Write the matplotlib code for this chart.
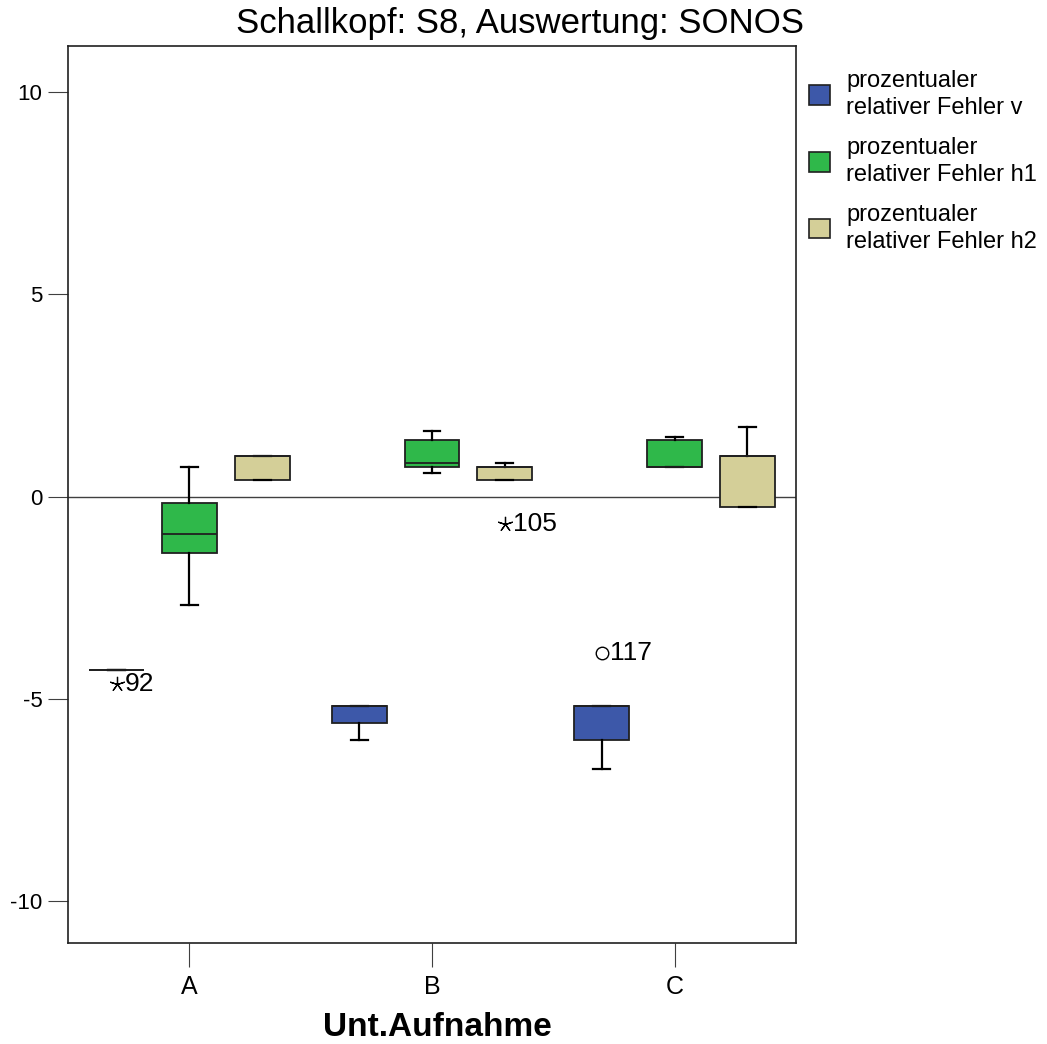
import numpy as np
import matplotlib
matplotlib.use("Agg")
import matplotlib.pyplot as plt
from matplotlib.patches import Patch

plt.rcParams['font.family'] = ['Liberation Sans', 'DejaVu Sans']
plt.rcParams['axes.unicode_minus'] = False

# groups on the x axis
groups = ['A', 'B', 'C']
series_names = ['prozentualer\nrelativer Fehler v',
                'prozentualer\nrelativer Fehler h1',
                'prozentualer\nrelativer Fehler h2']
colors = ['#3d58a9', '#2fb84a', '#d4cf98']

# box statistics per series, one value per group (A, B, C)
v_lo = [-4.28, -6.01, -6.73]
v_q1 = [-4.28, -5.59, -6.01]
v_med = [-4.28, -5.17, -5.17]
v_q3 = [-4.28, -5.17, -5.17]
v_hi = [-4.28, -5.17, -5.17]

h1_lo = [-2.67, 0.59, 0.74]
h1_q1 = [-1.39, 0.74, 0.74]
h1_med = [-0.92, 0.84, 0.74]
h1_q3 = [-0.17, 1.39, 1.39]
h1_hi = [0.74, 1.61, 1.46]

h2_lo = [0.42, 0.42, -0.27]
h2_q1 = [0.42, 0.42, -0.27]
h2_med = [1.01, 0.74, 1.01]
h2_q3 = [1.01, 0.74, 1.01]
h2_hi = [1.01, 0.84, 1.71]

# outliers: group index, series index, value, case label, marker kind
out_group = [0, 1, 2]
out_series = [0, 2, 0]
out_value = [-4.63, -0.67, -3.86]
out_label = ['92', '105', '117']
out_kind = ['extreme', 'extreme', 'outlier']

series_stats = [
    (v_lo, v_q1, v_med, v_q3, v_hi),
    (h1_lo, h1_q1, h1_med, h1_q3, h1_hi),
    (h2_lo, h2_q1, h2_med, h2_q3, h2_hi),
]

offsets = [-0.30, 0.0, 0.30]
box_w = 0.226

fig = plt.figure(figsize=(10.47, 10.44), dpi=100)
ax = fig.add_axes([68 / 1047, 1 - 943 / 1044, 728 / 1047, 897 / 1044])

ax.axhline(0, color='#404040', lw=1.0, zorder=1)

for si, (lo, q1, med, q3, hi) in enumerate(series_stats):
    stats = []
    for gi in range(len(groups)):
        stats.append(dict(whislo=lo[gi], q1=q1[gi], med=med[gi],
                          q3=q3[gi], whishi=hi[gi], fliers=[]))
    pos = [gi + offsets[si] for gi in range(len(groups))]
    ax.bxp(stats, positions=pos, widths=box_w, capwidths=0.07,
           patch_artist=True, showfliers=False, manage_ticks=False,
           boxprops=dict(facecolor=colors[si], edgecolor='#202020', lw=1.3),
           medianprops=dict(color='#202020', lw=1.3),
           whiskerprops=dict(color='black', lw=1.6),
           capprops=dict(color='black', lw=1.6), zorder=3)

for gi, si, val, lab, kind in zip(out_group, out_series, out_value, out_label, out_kind):
    x = gi + offsets[si]
    if kind == 'extreme':
        ax.plot(x, val, marker=(5, 2, 0), ms=11, color='black', mew=0.9, zorder=4)
    else:
        ax.plot(x, val, marker='o', ms=9, mfc='white', mec='black', mew=1.0, zorder=4)
    ax.annotate(lab, (x, val), xytext=(6, 0), textcoords='offset points',
                va='center', ha='left', fontsize=19)

ax.set_xlim(-0.5, 2.5)
ax.set_ylim(-11.04, 11.14)
ax.set_xticks(range(len(groups)))
ax.set_xticklabels(groups)
ax.set_yticks([-10, -5, 0, 5, 10])
ax.set_yticklabels(['-10', '-5', '0', '5', '10'])
ax.tick_params(axis='x', length=17, width=0.8, direction='out', labelsize=18, pad=6, color='#404040')
ax.tick_params(axis='y', length=14.5, width=0.8, direction='out', labelsize=16, pad=4, color='#404040')
for sp in ax.spines.values():
    sp.set_color('#202020')
    sp.set_linewidth(1.2)

fig.text(520 / 1047, 1 - 24 / 1044, 'Schallkopf: S8, Auswertung: SONOS',
         ha='center', va='center', fontsize=25)
fig.text(437 / 1047, 1 - 1027 / 1044, 'Unt.Aufnahme',
         ha='center', va='center', fontsize=24, fontweight='bold')

handles = [Patch(facecolor=c, edgecolor='#202020', lw=1.2) for c in colors]
leg = fig.legend(handles, series_names, loc='upper left',
                 bbox_to_anchor=(809 / 1047, 1 - 70 / 1044), frameon=False,
                 fontsize=17, handlelength=0.9, handleheight=0.9,
                 handletextpad=0.68, labelspacing=0.75, borderpad=0, borderaxespad=0)
for t in leg.get_texts():
    t.set_linespacing(1.3)

fig.savefig('out.png', dpi=100)
